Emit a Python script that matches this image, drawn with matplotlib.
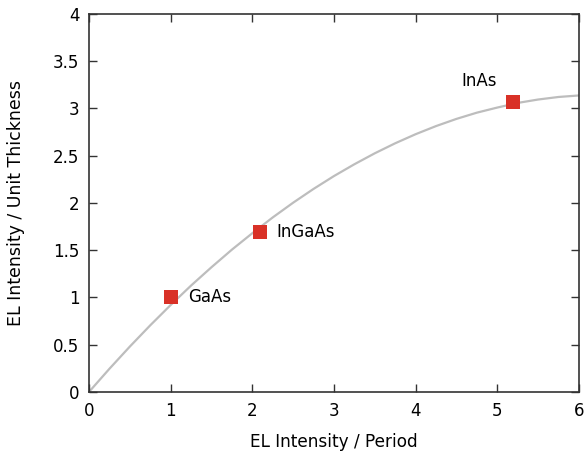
import numpy as np
import matplotlib
matplotlib.use('Agg')
import matplotlib.pyplot as plt

# fitted trend line (EL per period vs EL per unit thickness)
curve_x = [0, 0.25, 0.5, 0.75, 1.0, 1.25, 1.5, 1.75, 2.0, 2.25, 2.5, 2.75, 3.0,
           3.25, 3.5, 3.75, 4.0, 4.25, 4.5, 4.75, 5.0, 5.25, 5.5, 5.75, 6.0]
curve_y = [0, 0.245, 0.48, 0.705, 0.92, 1.126, 1.32, 1.506, 1.68, 1.847, 2.003,
           2.149, 2.285, 2.41, 2.526, 2.632, 2.728, 2.814, 2.89, 2.956, 3.01,
           3.059, 3.095, 3.122, 3.138]

# measured materials
materials = ['GaAs', 'InGaAs', 'InAs']
per_period = [1.0, 2.09, 5.19]
per_thickness = [1.0, 1.69, 3.07]

plt.rcParams['font.family'] = 'DejaVu Sans'
fig = plt.figure(figsize=(5.86, 4.53), dpi=100)
ax = fig.add_axes([0.152, 0.135, 0.836, 0.834])

ax.plot(curve_x, curve_y, color='#bdbdbd', lw=1.6, zorder=1)
ax.plot(per_period, per_thickness, 's', color='#d93127', markersize=10,
        markeredgewidth=0, zorder=2)

# labels next to the markers
ax.text(per_period[0] + 0.21, per_thickness[0], materials[0], fontsize=12,
        va='center', ha='left')
ax.text(per_period[1] + 0.21, per_thickness[1], materials[1], fontsize=12,
        va='center', ha='left')
ax.text(per_period[2] - 0.19, per_thickness[2] + 0.22, materials[2], fontsize=12,
        va='center', ha='right')

ax.set_xlim(0, 6)
ax.set_ylim(0, 4)
ax.set_xticks(range(0, 7))
ax.set_yticks(np.arange(0, 4.01, 0.5))
ax.set_yticklabels(['0', '0.5', '1', '1.5', '2', '2.5', '3', '3.5', '4'])
ax.tick_params(direction='in', length=6, width=1, top=True, right=True,
               labelsize=12, pad=7, colors='#333333', labelcolor='black')
for s in ax.spines.values():
    s.set_color('#333333')
    s.set_linewidth(1.2)

ax.set_xlabel('EL Intensity / Period', fontsize=12.2, labelpad=10)
ax.set_ylabel('EL Intensity / Unit Thickness', fontsize=12.5, labelpad=20)

fig.savefig('out.png', dpi=100)
